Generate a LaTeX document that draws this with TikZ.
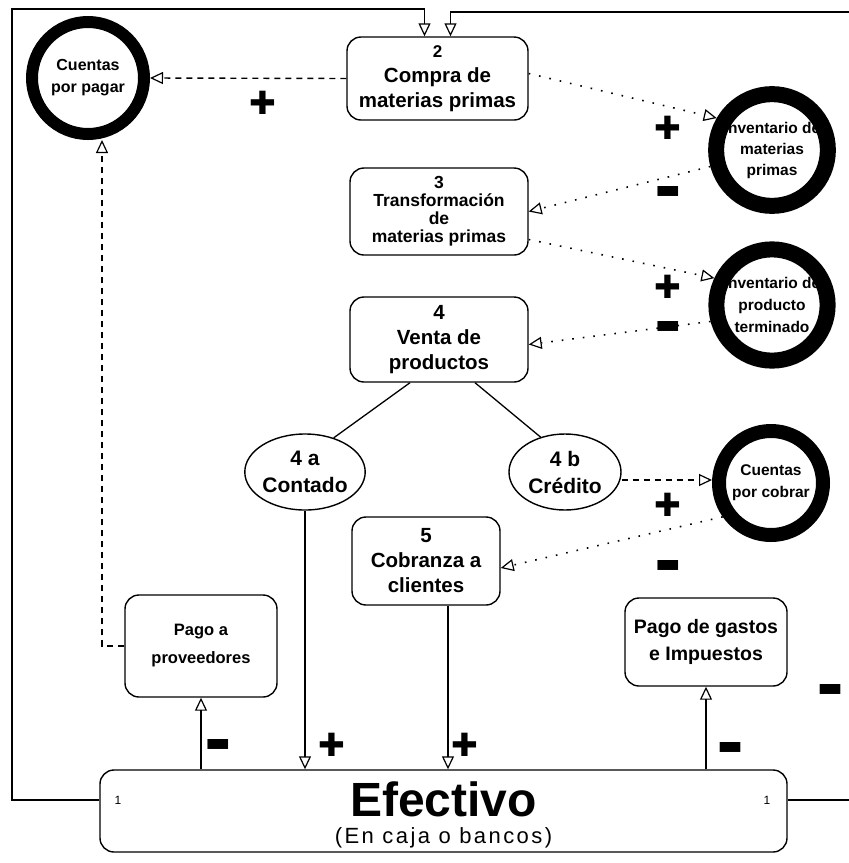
\documentclass[tikz,border=0pt]{standalone}
\usepackage{fontspec}
\setmainfont{Liberation Sans}
\newfontfamily\djv{DejaVu Sans}
\usetikzlibrary{arrows.meta,calc,shapes.geometric}
\begin{document}
\begin{tikzpicture}[x=1pt,y=-1pt,
  proc/.style={draw, rounded corners=14pt, line width=1.4pt, align=center, inner sep=0pt,
    font=\bfseries\fontsize{20.5}{25}\selectfont},
  stock/.style={draw, circle, line width=14pt, align=center, inner sep=0pt,
    font=\bfseries\fontsize{16}{22}\selectfont},
  ell/.style={draw, ellipse, line width=1.4pt, align=center, inner sep=0pt,
    minimum width=112pt, minimum height=76pt, font=\bfseries\fontsize{21}{27}\selectfont},
  flow/.style={line width=1.3pt},
  tri/.style={-{Triangle[open,length=13pt,width=12pt,line width=1.2pt]}},
  dots/.style={line width=1.6pt, dash pattern=on 1.6pt off 9pt},
  dsh/.style={line width=1.4pt, dash pattern=on 6pt off 5pt},
  plus/.style={font=\djv\fontsize{32}{32}\selectfont, inner sep=0pt},
  minus/.style={font=\djv\fontsize{27}{27}\selectfont, inner sep=0pt},
  one/.style={font=\fontsize{12}{12}\selectfont, inner sep=0pt}
]
\useasboundingbox (0,0) rectangle (849,863);
\fill[white] (0,0) rectangle (849,863);

% process boxes
\node[proc, minimum width=181pt, minimum height=83pt] (box2) at (437.5,78.5)
  {{\fontsize{17}{17}\selectfont 2}\\Compra de\\materias primas};
\node[proc, minimum width=178pt, minimum height=87pt, font=\bfseries\fontsize{17.5}{18}\selectfont] (box3) at (439,211.5)
  {3\\Transformación\\de\\materias primas};
\node[proc, minimum width=178pt, minimum height=85pt] (box4) at (439,339.5)
  {4\\Venta de\\productos};
\node[proc, minimum width=148pt, minimum height=88pt] (box5) at (426,561)
  {5\\Cobranza a\\clientes};
\node[proc, minimum width=152pt, minimum height=102pt, font=\bfseries\fontsize{16.5}{28}\selectfont] (pprov) at (201,646)
  {Pago a\\proveedores};
\node[proc, minimum width=162pt, minimum height=88pt, font=\bfseries\fontsize{19.5}{27}\selectfont] (pgastos) at (706,642)
  {Pago de gastos\\e Impuestos};
\node[proc, minimum width=687pt, minimum height=82pt, font=\fontsize{22}{27}\selectfont] (efectivo) at (443.5,811)
  {\rule{0pt}{41.6pt}{\bfseries\fontsize{48}{48}\selectfont Efectivo}\\{\addfontfeatures{LetterSpace=11}(En caja o bancos)}};

% stocks
\node[stock, line width=12pt, minimum size=112pt] (cxp) at (88,78) {Cuentas\\por pagar};
\node[stock, line width=16pt, minimum size=110pt, font=\bfseries\fontsize{15.5}{21}\selectfont] (invmp) at (772,150) {Inventario de\\materias\\primas};
\node[stock, line width=16pt, minimum size=104pt, font=\bfseries\fontsize{15.5}{22}\selectfont] (invpt) at (772,305) {Inventario de\\producto\\terminado};
\node[stock, line width=14pt, minimum size=104pt, font=\bfseries\fontsize{15.5}{22}\selectfont] (cxc) at (771,483) {Cuentas\\por cobrar};

% sale types
\node[ell] (ell4a) at (305,472) {4 a\\Contado};
\node[ell] (ell4b) at (565,472) {4 b\\Crédito};

% split of sales
\draw[flow] ([xshift=-29pt]box4.south) -- (ell4a.50);
\draw[flow] ([xshift=36pt]box4.south) -- (ell4b.125);

% information / accrual flows
\draw[dsh,tri] (box2.west) -- (cxp.east);
\draw[dots,tri] ([yshift=5pt]box2.east) -- (invmp.150);
\draw[dots,tri] (invmp.195) -- (box3.east);
\draw[dots,tri] ([yshift=-28pt]box3.east) -- (invpt.155);
\draw[dots,tri] (invpt.195) -- ([yshift=-5pt]box4.east);
\draw[dsh,tri] ([yshift=-8pt]ell4b.east) -- ([yshift=-8pt]ell4b.east -| cxc.west);
\draw[dots,tri] (cxc.215) -- ([yshift=-7pt]box5.east);
\coordinate (ppc) at (102,646);
\draw[dsh,tri] (pprov.west) -- (ppc) -- (ppc |- cxp.south);

% cash flows
\draw[flow,tri] (pprov.south |- efectivo.north) -- (pprov.south);
\draw[flow,tri] (ell4a.south) -- (ell4a.south |- efectivo.north);
\draw[flow,tri] ([xshift=22pt]box5.south) -- ([xshift=22pt]box5.south |- efectivo.north);
\draw[flow,tri] (pgastos.south |- efectivo.north) -- (pgastos.south);

% outer loop
\coordinate (effL) at ($(efectivo.west)+(0,-11)$);
\coordinate (effR) at ($(efectivo.east)+(0,-11)$);
\coordinate (topL) at (12,9);
\coordinate (topR) at (849,12);
\coordinate (rightend) at (849,800);
\draw[flow,tri] (effL) -| (topL) -| ([xshift=-13pt]box2.north);
\draw[flow,tri] (topR) -| ([xshift=13pt]box2.north);
\draw[flow] (effR) -- (rightend);
\node[one] (oneL) at (118,800) {1};
\node[one] (oneR) at (767,800) {1};

% signs
\node[plus] (s1) at (263,103) {✚};
\node[plus] (s2) at (668,128) {✚};
\node[minus] (s3) at (668,192) {▬};
\node[plus] (s4) at (668,287) {✚};
\node[minus] (s5) at (668,327) {▬};
\node[plus] (s6) at (668,505) {✚};
\node[minus] (s7) at (668,566) {▬};
\node[minus] (s8) at (218,745) {▬};
\node[plus] (s9) at (332,745) {✚};
\node[plus] (s10) at (465,745) {✚};
\node[minus] (s11) at (730,748) {▬};
\node[minus] (s12) at (830,690) {▬};
\end{tikzpicture}
\end{document}
